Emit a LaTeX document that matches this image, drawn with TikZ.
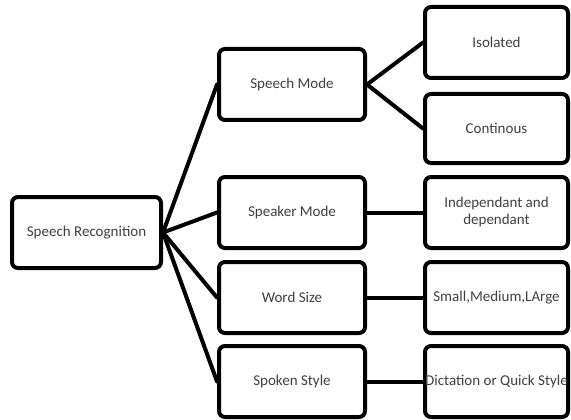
\documentclass[tikz,border=0pt]{standalone}
\usepackage{fontspec}
\setmainfont{Carlito}
\begin{document}
\begin{tikzpicture}[x=1pt,y=-1pt,
  box/.style={draw=black,line width=4pt,rounded corners=6pt,fill=white,
    inner sep=0pt,align=center,text=black!75,font=\fontsize{15}{17}\selectfont},
  rootbox/.style={box,minimum width=149pt,minimum height=71pt},
  midbox/.style={box,minimum width=146pt,minimum height=71pt},
  leafbox/.style={box,minimum width=143pt,minimum height=71pt},
  link/.style={line width=4pt,line cap=round}]
\useasboundingbox (0,0) rectangle (571,420);
\fill[white] (0,0) rectangle (571,420);
\node[rootbox] (root) at (86.5,232.5) {Speech Recognition};
\node[midbox] (sm) at (292,84.5) {Speech Mode};
\node[midbox] (spk) at (292,212.5) {Speaker Mode};
\node[midbox] (ws) at (292,297.5) {Word Size};
\node[midbox] (ss) at (292,381.5) {Spoken Style};
\node[leafbox] (iso) at (496.5,42.5) {Isolated};
\node[leafbox,minimum height=69pt] (con) at (496.5,128.5) {Continous};
\node[leafbox] (ind) at (496.5,212.5) {Independant and\\dependant};
\node[leafbox] (sml) at (496.5,297.5) {Small,Medium,LArge};
\node[leafbox] (dic) at (496.5,381.5) {Dictation or Quick Style};
\draw[link] (root.east) -- (sm.west);
\draw[link] (root.east) -- (spk.west);
\draw[link] (root.east) -- (ws.west);
\draw[link] (root.east) -- (ss.west);
\draw[link] (sm.east) -- (iso.west);
\draw[link] (sm.east) -- (con.west);
\draw[link] (spk.east) -- (ind.west);
\draw[link] (ws.east) -- (sml.west);
\draw[link] (ss.east) -- (dic.west);
\end{tikzpicture}
\end{document}
